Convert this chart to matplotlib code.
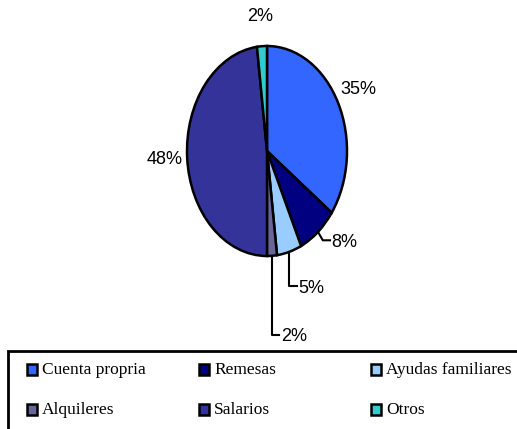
import numpy as np
import matplotlib
matplotlib.use('Agg')
import matplotlib.pyplot as plt
from matplotlib import font_manager
from matplotlib.patches import Rectangle

# Data
labels = ['Cuenta propria', 'Remesas', 'Ayudas familiares', 'Alquileres', 'Salarios', 'Otros']
values = [35, 8, 5, 2, 48, 2]
colors = ['#3366FF', '#000080', '#99CCFF', '#666699', '#333399', '#33CCCC']

# leader line drop (in axes units) for the small slices, None = plain label
drops = [None, 0.08, 0.33, 0.75, None, None]

W, H = 517, 429
names = {f.name for f in font_manager.fontManager.ttflist}
sans = 'Liberation Sans Narrow' if 'Liberation Sans Narrow' in names else 'Liberation Sans'
lab_size = 15.5 if sans == 'Liberation Sans Narrow' else 13

fig = plt.figure(figsize=(W / 100, H / 100), dpi=100)

# pie axes sized to the (squashed) ellipse of the original
ax = fig.add_axes([187 / W, (H - 256) / H, 160 / W, 210 / H])
wedges, _ = ax.pie(values, colors=colors, startangle=90, counterclock=False,
                   wedgeprops=dict(edgecolor='black', linewidth=1.8))
ax.set_xlim(-1, 1)
ax.set_ylim(-1, 1)
ax.set_aspect('auto')
ax.axis('off')

for w, v, d in zip(wedges, values, drops):
    ang = np.deg2rad((w.theta1 + w.theta2) / 2)
    xe, ye = np.cos(ang), np.sin(ang)
    txt = f'{v}%'
    if d is None:
        ax.text(1.28 * xe, 1.28 * ye, txt, ha='center', va='center',
                fontsize=lab_size, family=sans)
    else:
        shift = 0.06 if d < 0.2 else 0.0
        xs = [xe, xe + shift, xe + shift + 0.09]
        ys = [ye, ye - d, ye - d]
        ax.plot(xs, ys, color='black', lw=1.5, clip_on=False)
        ax.text(xs[-1] + 0.02, ys[-1] - 0.02, txt, ha='left', va='center',
                fontsize=lab_size, family=sans)

# legend box
fig.patches.append(Rectangle((8 / W, -0.05), 1.1, (H - 351) / H + 0.05,
                             transform=fig.transFigure, fill=False,
                             edgecolor='black', lw=2, clip_on=False))
col_x = [27, 199, 371]
row_y = [370, 410]
for i, (lab, c) in enumerate(zip(labels, colors)):
    x = col_x[i % 3]
    y = row_y[i // 3]
    fig.patches.append(Rectangle((x / W, (H - y - 5) / H), 10 / W, 11 / H,
                                 transform=fig.transFigure, facecolor=c,
                                 edgecolor='black', lw=1.8))
    fig.text((x + 15) / W, (H - y) / H, lab, ha='left', va='center',
             fontsize=12.5, family='Liberation Serif')

fig.savefig('out.png', dpi=100)
